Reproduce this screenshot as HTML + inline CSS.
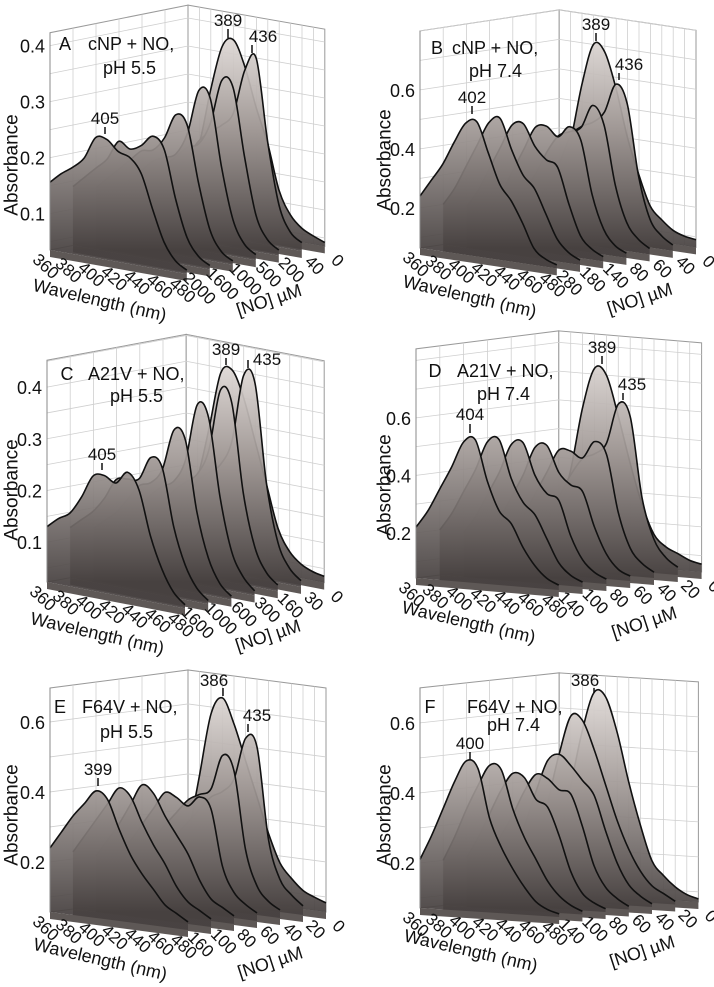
<!DOCTYPE html>
<html><head><meta charset="utf-8"><style>
html,body{margin:0;padding:0;background:#fff;}
svg{display:block;font-family:"Liberation Sans",sans-serif;}
</style></head><body>
<svg id="fig" width="714" height="987" viewBox="0 0 714 987" xmlns="http://www.w3.org/2000/svg">
<defs id="defs"></defs>
</svg>
<script>
const WL = [360,370,380,390,400,410,420,430,440,450,460,470,480];
const wlTicks = [360,380,400,420,440,460,480];

const concA = [2000,1600,1000,500,200,40,0];
const specA = [
 [0.156,0.175,0.19,0.21,0.25,0.25,0.232,0.225,0.2,0.14,0.085,0.055,0.042],
 [0.14,0.16,0.18,0.2,0.235,0.225,0.235,0.255,0.235,0.15,0.085,0.055,0.042],
 [0.13,0.15,0.17,0.19,0.21,0.215,0.24,0.285,0.27,0.17,0.09,0.055,0.042],
 [0.12,0.14,0.16,0.18,0.19,0.2,0.24,0.32,0.31,0.19,0.1,0.06,0.045],
 [0.12,0.14,0.16,0.18,0.2,0.21,0.25,0.33,0.32,0.2,0.1,0.06,0.045],
 [0.12,0.14,0.17,0.2,0.22,0.235,0.26,0.34,0.365,0.22,0.11,0.065,0.05],
 [0.13,0.18,0.28,0.36,0.375,0.33,0.26,0.2,0.12,0.08,0.06,0.05,0.042]];
const ticksA = [0.1,0.2,0.3,0.4];

const concB = [280,180,140,80,60,40,0];
const specB = [
 [0.24,0.30,0.36,0.44,0.51,0.52,0.42,0.32,0.27,0.20,0.12,0.09,0.076],
 [0.20,0.26,0.34,0.42,0.50,0.52,0.42,0.34,0.30,0.22,0.14,0.10,0.08],
 [0.18,0.24,0.32,0.40,0.48,0.49,0.42,0.38,0.36,0.24,0.14,0.10,0.08],
 [0.16,0.22,0.30,0.38,0.46,0.47,0.44,0.48,0.44,0.26,0.15,0.10,0.08],
 [0.16,0.22,0.28,0.36,0.42,0.44,0.46,0.54,0.48,0.28,0.16,0.11,0.084],
 [0.16,0.22,0.30,0.40,0.44,0.46,0.50,0.60,0.54,0.30,0.16,0.11,0.084],
 [0.20,0.36,0.56,0.70,0.68,0.56,0.40,0.28,0.18,0.14,0.11,0.096,0.09]];
const ticksB = [0.2,0.4,0.6];

const concC = [1600,1000,600,300,160,30,0];
const specC = [
 [0.13,0.15,0.165,0.2,0.245,0.25,0.24,0.265,0.235,0.15,0.09,0.05,0.03],
 [0.12,0.14,0.16,0.19,0.23,0.235,0.24,0.285,0.27,0.16,0.09,0.05,0.03],
 [0.11,0.13,0.15,0.18,0.21,0.22,0.25,0.33,0.315,0.18,0.095,0.05,0.03],
 [0.1,0.12,0.15,0.18,0.2,0.215,0.26,0.37,0.35,0.2,0.1,0.055,0.032],
 [0.1,0.12,0.15,0.18,0.2,0.22,0.27,0.39,0.37,0.2,0.1,0.055,0.035],
 [0.1,0.12,0.15,0.19,0.21,0.23,0.28,0.41,0.4,0.21,0.1,0.055,0.035],
 [0.12,0.18,0.28,0.39,0.4,0.35,0.27,0.19,0.11,0.07,0.05,0.04,0.035]];
const ticksC = [0.1,0.2,0.3,0.4];

const concD = [140,100,80,60,40,20,0];
const specD = [
 [0.22,0.28,0.36,0.44,0.53,0.54,0.40,0.30,0.26,0.18,0.12,0.08,0.06],
 [0.20,0.26,0.34,0.42,0.52,0.53,0.40,0.32,0.28,0.20,0.12,0.08,0.06],
 [0.18,0.24,0.32,0.40,0.50,0.51,0.40,0.34,0.32,0.20,0.12,0.08,0.06],
 [0.16,0.22,0.30,0.38,0.48,0.49,0.40,0.36,0.34,0.22,0.13,0.08,0.06],
 [0.16,0.22,0.30,0.38,0.46,0.46,0.44,0.50,0.46,0.26,0.14,0.09,0.063],
 [0.14,0.20,0.28,0.36,0.42,0.44,0.48,0.62,0.58,0.30,0.16,0.10,0.07],
 [0.20,0.36,0.58,0.72,0.70,0.56,0.40,0.26,0.16,0.12,0.10,0.08,0.07]];
const ticksD = [0.2,0.4,0.6];

const concE = [160,100,80,60,40,20,0];
const specE = [
 [0.24,0.29,0.34,0.38,0.42,0.40,0.32,0.25,0.20,0.16,0.12,0.10,0.08],
 [0.22,0.27,0.32,0.37,0.42,0.40,0.33,0.27,0.22,0.16,0.12,0.10,0.08],
 [0.20,0.25,0.30,0.36,0.42,0.40,0.34,0.29,0.24,0.17,0.12,0.10,0.08],
 [0.20,0.24,0.29,0.34,0.39,0.38,0.36,0.39,0.36,0.20,0.13,0.10,0.08],
 [0.20,0.24,0.28,0.32,0.36,0.38,0.40,0.50,0.46,0.24,0.14,0.10,0.08],
 [0.20,0.24,0.28,0.32,0.36,0.38,0.42,0.54,0.52,0.26,0.15,0.11,0.083],
 [0.22,0.40,0.58,0.63,0.56,0.46,0.36,0.26,0.18,0.14,0.11,0.095,0.083]];
const ticksE = [0.2,0.4,0.6];

const concF = [140,100,80,60,40,20,0];
const specF = [
 [0.21,0.28,0.36,0.44,0.50,0.48,0.34,0.26,0.20,0.15,0.11,0.09,0.08],
 [0.20,0.27,0.35,0.42,0.48,0.47,0.36,0.28,0.22,0.16,0.12,0.095,0.08],
 [0.20,0.26,0.33,0.40,0.45,0.44,0.38,0.36,0.28,0.18,0.12,0.095,0.08],
 [0.20,0.26,0.32,0.39,0.44,0.43,0.40,0.39,0.30,0.19,0.13,0.10,0.08],
 [0.20,0.28,0.38,0.47,0.49,0.46,0.42,0.38,0.28,0.19,0.13,0.10,0.08],
 [0.22,0.34,0.48,0.59,0.58,0.50,0.40,0.30,0.22,0.16,0.12,0.10,0.08],
 [0.22,0.38,0.54,0.65,0.64,0.54,0.40,0.28,0.18,0.14,0.11,0.09,0.08]];
const ticksF = [0.2,0.4,0.6];

const panels = [
 {id:'a',tx:0,ty:0,ox:50,oy:250,sx:1.14,sy:0.2,dx:23,dy:-4.6,zmin:0.035,sz:560,zmax:0.423,conc:concA,spec:specA,ticks:ticksA,minor:0.05,
  letter:['A',65,50],l1:['cNP + NO,',88,50],l2:['pH 5.5',103,74],absX:12,absY:165,
  ann:[['405',105,124,105,127,134],['389',228,26,228,29,38],['436',263,42,252,45,53]]},
 {id:'b',tx:357,ty:0,ox:63,oy:248,sx:1.14,sy:0.17,dx:23.2,dy:-3.5,zmin:0.064,sz:295,zmax:0.80,conc:concB,spec:specB,ticks:ticksB,minor:0.1,
  letter:['B',80,54],l1:['cNP + NO,',95,54],l2:['pH 7.4',112,77],absX:28,absY:160,
  ann:[['402',115,103,115,106,114],['389',239,30,239,33,41],['436',272,70,262,73,80]]},
 {id:'c',tx:0,ty:320,ox:47,oy:262,sx:1.15,sy:0.22,dx:23.2,dy:-4.3,zmin:0.023,sz:517,zmax:0.452,conc:concC,spec:specC,ticks:ticksC,minor:0.05,
  letter:['C',67,60],l1:['A21V + NO,',88,60],l2:['pH 5.5',110,82],absX:12,absY:170,
  ann:[['405',102,140,102,143,150],['389',226,35,226,38,45],['435',267,45,248,40,48]]},
 {id:'d',tx:357,ty:320,ox:59,oy:258,sx:1.19,sy:0.1,dx:23.8,dy:-3,zmin:0.043,sz:287.5,zmax:0.84,conc:concD,spec:specD,ticks:ticksD,minor:0.1,
  letter:['D',78,57],l1:['A21V + NO,',100,57],l2:['pH 7.4',120,80],absX:28,absY:165,
  ann:[['404',113,100,113,104,113],['389',245,33,245,36,44],['435',275,70,266,73,80]]},
 {id:'e',tx:0,ty:650,ox:50,oy:262,sx:1.15,sy:0.15,dx:23,dy:-3,zmin:0.057,sz:350,zmax:0.697,conc:concE,spec:specE,ticks:ticksE,minor:0.1,
  letter:['E',60,63],l1:['F64V + NO,',82,63],l2:['pH 5.5',100,88],absX:12,absY:165,
  ann:[['399',98,125,98,128,136],['386',214,36,223,38,46],['435',257,71,248,74,82]]},
 {id:'f',tx:357,ty:650,ox:63,oy:258,sx:1.16,sy:0.075,dx:23.2,dy:-2.5,zmin:0.071,sz:350,zmax:0.70,conc:concF,spec:specF,ticks:ticksF,minor:0.1,
  letter:['F',73,63],l1:['F64V + NO,',110,63],l2:['pH 7.4',130,81],absX:28,absY:165,
  ann:[['400',113,99,113,102,110],['386',228,36,237,38,43]]}
];

const NS = 'http://www.w3.org/2000/svg';
const svg = document.getElementById('fig');
const defs = document.getElementById('defs');
function mk(tag, attrs, parent){
  const e = document.createElementNS(NS, tag);
  for (const k in attrs) e.setAttribute(k, attrs[k]);
  parent.appendChild(e);
  return e;
}
function P(p, w, k, a){
  return [p.ox + (w-360)*p.sx + k*p.dx, p.oy + (w-360)*p.sy + k*p.dy - (a - p.zmin)*p.sz];
}
function smooth(pts){
  let d = 'M' + pts[0][0].toFixed(2) + ',' + pts[0][1].toFixed(2);
  const n = pts.length;
  for (let i=0;i<n-1;i++){
    const p0=pts[Math.max(i-1,0)], p1=pts[i], p2=pts[i+1], p3=pts[Math.min(i+2,n-1)];
    const c1=[p1[0]+(p2[0]-p0[0])/6, p1[1]+(p2[1]-p0[1])/6];
    const c2=[p2[0]-(p3[0]-p1[0])/6, p2[1]-(p3[1]-p1[1])/6];
    d += ' C'+c1[0].toFixed(2)+','+c1[1].toFixed(2)+' '+c2[0].toFixed(2)+','+c2[1].toFixed(2)+' '+p2[0].toFixed(2)+','+p2[1].toFixed(2);
  }
  return d;
}
function poly(pts){ return pts.map(q=>q[0].toFixed(2)+','+q[1].toFixed(2)).join(' '); }

panels.forEach(p=>{
  const g = mk('g',{transform:'translate('+p.tx+','+p.ty+')'},svg);
  
  
  const nK = p.spec.length - 1;
  const gr = mk('linearGradient',{id:'grad-'+p.id,gradientUnits:'userSpaceOnUse',x1:0,x2:0,y1:P(p,360,0,p.zmax)[1],y2:p.oy},defs);
  mk('stop',{offset:'0','stop-color':'#e2dcd9'},gr);
  mk('stop',{offset:'0.45','stop-color':'#a09895'},gr);
  mk('stop',{offset:'1','stop-color':'#474140'},gr);
  const lw = mk('polygon',{points:poly([P(p,360,0,p.zmin),P(p,360,nK,p.zmin),P(p,360,nK,p.zmax),P(p,360,0,p.zmax)]),fill:'#fff',stroke:'#9a9a9a','stroke-width':1},g);
  
  
  const bw = mk('polygon',{points:poly([P(p,360,nK,p.zmin),P(p,480,nK,p.zmin),P(p,480,nK,p.zmax),P(p,360,nK,p.zmax)]),fill:'#fff',stroke:'#9a9a9a','stroke-width':1},g);
  
  
  for (let z = p.minor; z < p.zmax; z += p.minor){
    if (z <= p.zmin) continue;
    const a1=P(p,360,0,z), a2=P(p,360,nK,z), a3=P(p,480,nK,z);
    const gl = mk('polyline',{points:poly([a1,a2,a3]),fill:'none',stroke:'#cfcfcf','stroke-width':0.8},g);
    
    
  }
  for (let k=1;k<nK;k++){
    const gl = mk('line',{x1:P(p,360,k,p.zmin)[0],y1:P(p,360,k,p.zmin)[1],x2:P(p,360,k,p.zmax)[0],y2:P(p,360,k,p.zmax)[1],stroke:'#cfcfcf','stroke-width':0.8},g);
    
    
  }
  for (let w=370; w<480; w+=10){
    const gl = mk('line',{x1:P(p,w,nK,p.zmin)[0],y1:P(p,w,nK,p.zmin)[1],x2:P(p,w,nK,p.zmax)[0],y2:P(p,w,nK,p.zmax)[1],stroke:'#cfcfcf','stroke-width':0.8},g);
    
    
  }
  for (let k=nK;k>=0;k--){
    const vals = p.spec[k];
    const b0=P(p,360,k,p.zmin), b1=P(p,480,k,p.zmin);
    const slab = mk('polygon',{points:poly([b0,b1,[b1[0],b1[1]+7],[b0[0],b0[1]+7]]),fill:'#5e5856'},g);
    
    
    const pts = WL.map((w,i)=>P(p,w,k,vals[i]));
    const cd = smooth(pts);
    const fill = mk('path',{d:cd+' L'+b1[0].toFixed(2)+','+b1[1].toFixed(2)+' L'+b0[0].toFixed(2)+','+b0[1].toFixed(2)+' Z',fill:'url(#grad-'+p.id+')','fill-opacity':0.93},g);
    
    
    const line = mk('path',{d:cd,fill:'none',stroke:'#111','stroke-width':1.6},g);
    
    
    const cx = b1[0]+13, cy = b1[1]+20;
    const cl = mk('text',{x:cx,y:cy,'font-size':17,'text-anchor':'middle',transform:'rotate(45 '+cx+' '+(cy-6)+')',fill:'#111'},g);
    cl.textContent = String(p.conc[k]);
    
    
  }
  const fe = mk('line',{x1:P(p,360,0,p.zmin)[0],y1:P(p,360,0,p.zmin)[1],x2:P(p,360,0,p.zmax)[0],y2:P(p,360,0,p.zmax)[1],stroke:'#888','stroke-width':1},g);
  
  
  p.ticks.forEach(t=>{
    const q = P(p,360,0,t);
    const tl = mk('text',{x:q[0]-5,y:q[1]+7,'font-size':18,'text-anchor':'end',fill:'#111'},g);
    tl.textContent = String(t);
    
    
  });
  wlTicks.forEach(w=>{
    const q = P(p,w,0,p.zmin);
    const x=q[0]-4, y=q[1]+22;
    const tl = mk('text',{x:x,y:y,'font-size':17,'text-anchor':'middle',transform:'rotate(42 '+x+' '+(y-6)+')',fill:'#111'},g);
    tl.textContent = String(w);
    
    
  });
  const wq = P(p,420,0,p.zmin);
  const wx = wq[0]-20, wy = wq[1]+44;
  const wt = mk('text',{x:wx,y:wy,'font-size':18,'text-anchor':'middle',transform:'rotate(13 '+wx+' '+wy+')',fill:'#111'},g);
  wt.textContent = 'Wavelength (nm)';
  
  
  const nq = P(p,480,4,p.zmin);
  const nx = nq[0]-8, ny = nq[1]+50;
  const nt = mk('text',{x:nx,y:ny,'font-size':18,'text-anchor':'middle',transform:'rotate(-18 '+nx+' '+ny+')',fill:'#111'},g);
  nt.textContent = '[NO] \u00b5M';
  
  
  const at = mk('text',{x:p.absX,y:p.absY,'font-size':19,'text-anchor':'middle','dominant-baseline':'central',transform:'rotate(-90 '+p.absX+' '+p.absY+')',fill:'#111'},g);
  at.textContent = 'Absorbance';
  
  
  const lt = mk('text',{x:p.letter[1],y:p.letter[2],'font-size':18,'text-anchor':'middle',fill:'#111'},g);
  lt.textContent = p.letter[0];
  
  
  const t1 = mk('text',{x:p.l1[1],y:p.l1[2],'font-size':18,fill:'#111'},g);
  t1.textContent = p.l1[0];
  
  
  const t2 = mk('text',{x:p.l2[1],y:p.l2[2],'font-size':18,fill:'#111'},g);
  t2.textContent = p.l2[0];
  
  
  p.ann.forEach(a=>{
    const tx = mk('text',{x:a[1],y:a[2],'font-size':17,'text-anchor':'middle',fill:'#111'},g);
    tx.textContent = a[0];
    
    
    const tk = mk('line',{x1:a[3],y1:a[4],x2:a[3],y2:a[5],stroke:'#111','stroke-width':1.5},g);
    
    
  });
});
</script>
</body></html>
